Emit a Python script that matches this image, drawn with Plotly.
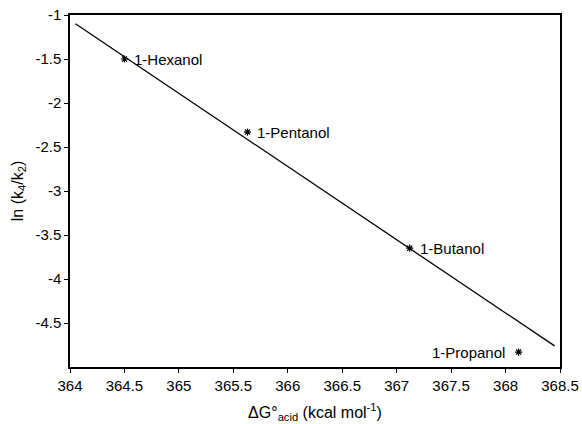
import plotly.graph_objects as go

alcohols = ["1-Hexanol", "1-Pentanol", "1-Butanol", "1-Propanol"]
dG_acid = [364.5, 365.63, 367.12, 368.12]
ln_ratio = [-1.5, -2.33, -3.65, -4.83]

fit_x = [364.05, 368.45]
fit_y = [-1.1, -4.76]

x_ticks = [364, 364.5, 365, 365.5, 366, 366.5, 367, 367.5, 368, 368.5]
x_ticktext = ["364", "364.5", "365", "365.5", "366", "366.5", "367", "367.5", "368", "368.5"]
y_ticks = [-1, -1.5, -2, -2.5, -3, -3.5, -4, -4.5]
y_ticktext = ["-1", "-1.5", "-2", "-2.5", "-3", "-3.5", "-4", "-4.5"]

label_pos = ["right", "right", "right", "left"]

fig = go.Figure()
fig.add_trace(go.Scatter(x=fit_x, y=fit_y, mode="lines",
                         line=dict(color="black", width=1.3), showlegend=False))
fig.add_trace(go.Scatter(x=dG_acid, y=ln_ratio, mode="markers",
                         marker=dict(symbol="asterisk", size=6, color="black",
                                     line=dict(color="black", width=1.2)),
                         showlegend=False))
for xv, yv, name, pos in zip(dG_acid, ln_ratio, alcohols, label_pos):
    if pos == "right":
        fig.add_annotation(x=xv, y=yv, text=name, showarrow=False,
                           xanchor="left", xshift=8, font=dict(size=15, color="black"))
    else:
        fig.add_annotation(x=xv, y=yv, text=name, showarrow=False,
                           xanchor="right", xshift=-12, font=dict(size=15, color="black"))

fig.update_layout(
    width=582, height=424,
    margin=dict(l=70, r=22, t=15, b=57),
    plot_bgcolor="white", paper_bgcolor="white",
    font=dict(family="Liberation Sans, Arial, sans-serif", size=15, color="black"),
    xaxis=dict(range=[364, 368.5], tickvals=x_ticks, ticktext=x_ticktext,
               ticks="outside", ticklen=4, tickcolor="black", automargin=False,
               showline=True, linecolor="black", linewidth=1.5, mirror=True,
               showgrid=False, zeroline=False, tickfont=dict(size=15),
               title=dict(text="ΔG°<sub>acid</sub> (kcal mol<sup>-1</sup>)", standoff=14,
                          font=dict(size=16))),
    yaxis=dict(range=[-5, -1], tickvals=y_ticks, ticktext=y_ticktext,
               ticks="outside", ticklen=4, tickcolor="black", automargin=False,
               showline=True, linecolor="black", linewidth=1.5, mirror=True,
               showgrid=False, zeroline=False, tickfont=dict(size=15),
               title=dict(text="ln (k<sub>4</sub>/k<sub>2</sub>)", standoff=8,
                          font=dict(size=16))),
)

fig.write_html("out.html")
